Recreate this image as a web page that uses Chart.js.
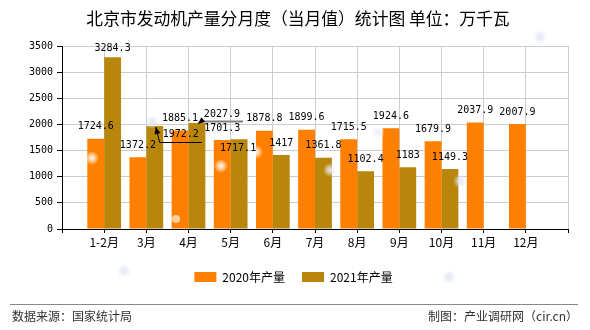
<!DOCTYPE html>
<html>
<head>
<meta charset="utf-8">
<script src="https://cdn.jsdelivr.net/npm/chart.js@4.4.1/dist/chart.umd.min.js"></script>
<style>
    html, body { margin: 0; padding: 0; background: #fff; }
    #wrap { width: 590px; height: 330px; }
</style>
</head>
<body>
<div id="wrap"><canvas id="chart" width="590" height="330"></canvas></div>
<script>
// Données (万千瓦)
const months = ["1-2月", "3月", "4月", "5月", "6月", "7月", "8月", "9月", "10月", "11月", "12月"];
const output2020 = [1724.6, 1372.2, 1885.1, 1701.3, 1878.8, 1899.6, 1715.5, 1924.6, 1679.9, 2037.9, 2007.9];
const output2021 = [3284.3, 1972.2, 2027.9, 1717.1, 1417, 1361.8, 1102.4, 1183, 1149.3, null, null];
const yTicks = [0, 500, 1000, 1500, 2000, 2500, 3000, 3500];

const titleText = "北京市发动机产量分月度（当月值）统计图 单位：万千瓦";
const sourceText = "数据来源：国家统计局";
const creditText = "制图：产业调研网（cir.cn）";

// étiquettes déplacées pour éviter les chevauchements
const labelMoves = [
    { month: "3月", ds: 1, dx: 26, dy: 9, leader: "#000", leaderWidth: 1 },
    { month: "4月", ds: 1, dx: 25, dy: -9, leader: "#808080", leaderWidth: 2 },
    { month: "5月", ds: 1, dx: -1, dy: 9 }
];

// petits reflets décoratifs du fond d'origine
const sparkles = [
    [92, 158, "255,255,255"], [221, 166, "255,255,255"], [256, 152, "255,255,255"],
    [330, 170, "235,238,250"], [378, 132, "235,238,250"], [460, 181, "225,230,248"],
    [152, 122, "225,230,248"], [540, 37, "225,230,248"], [124, 271, "225,230,248"], [449, 277, "225,230,248"]
];

const cjk = '"Noto Sans CJK SC", "Noto Sans", sans-serif';
const mono = '"DejaVu Sans Mono", "Liberation Mono", monospace';

// axe avec une case vide de chaque côté
const labels = ["", ...months, ""];
const pad = arr => [null, ...arr, null];

const decorations = {
    id: "decorations",
    afterDraw(chart) {
        const ctx = chart.ctx;
        ctx.save();
        // titre
        ctx.fillStyle = "#000";
        ctx.font = "16.8px " + cjk;
        ctx.textAlign = "center";
        ctx.textBaseline = "middle";
        ctx.fillText(titleText, 298, 19);
        // pied de page
        ctx.strokeStyle = "#888";
        ctx.lineWidth = 1;
        ctx.beginPath();
        ctx.moveTo(10, 304.5);
        ctx.lineTo(578, 304.5);
        ctx.stroke();
        ctx.fillStyle = "#333";
        ctx.font = "12px " + cjk;
        ctx.textAlign = "left";
        ctx.fillText(sourceText, 12, 316);
        ctx.textAlign = "right";
        ctx.fillText(creditText, 578, 316);
        ctx.restore();
    }
};

const valueLabels = {
    id: "valueLabels",
    afterDatasetsDraw(chart) {
        const ctx = chart.ctx;
        const areaTop = chart.chartArea.top;
        ctx.save();
        // reflets
        sparkles.forEach(([x, y, c]) => {
            const g = ctx.createRadialGradient(x, y, 0, x, y, 7);
            g.addColorStop(0, "rgba(" + c + ",0.95)");
            g.addColorStop(0.45, "rgba(" + c + ",0.6)");
            g.addColorStop(1, "rgba(" + c + ",0)");
            ctx.fillStyle = g;
            ctx.fillRect(x - 7, y - 7, 14, 14);
        });
        ctx.fillStyle = "rgba(255,214,170,0.9)";
        ctx.beginPath();
        ctx.arc(176, 219, 4, 0, Math.PI * 2);
        ctx.fill();

        ctx.font = "10px " + mono;
        ctx.textAlign = "center";
        ctx.textBaseline = "middle";
        chart.data.datasets.forEach((ds, d) => {
            chart.getDatasetMeta(d).data.forEach((bar, i) => {
                const v = ds.data[i];
                if (v === null || v === undefined) return;
                const text = String(v);
                const move = labelMoves.find(m => m.ds === d && labels.indexOf(m.month) === i) || { dx: 0, dy: -12 };
                const cx = bar.x + move.dx;
                const cy = Math.max(bar.y + move.dy, areaTop + 2.5);
                ctx.fillStyle = "#000";
                ctx.fillText(text, cx, cy);
                if (move.leader) {
                    const w = ctx.measureText(text).width;
                    const uy = Math.round(cy + 7) + 0.5;
                    const ux0 = cx - w / 2 - 3;
                    const ux1 = cx + w / 2 + 3;
                    const tx = bar.x + 1;
                    const ty = bar.y + 1;
                    ctx.strokeStyle = move.leader;
                    ctx.lineWidth = move.leaderWidth;
                    ctx.beginPath();
                    ctx.moveTo(ux1, uy);
                    ctx.lineTo(ux0, uy);
                    ctx.lineTo(tx, ty);
                    ctx.stroke();
                    const a = Math.atan2(ty - uy, tx - ux0);
                    ctx.beginPath();
                    ctx.moveTo(tx, ty);
                    ctx.lineTo(tx - 7 * Math.cos(a) + 3 * Math.sin(a), ty - 7 * Math.sin(a) - 3 * Math.cos(a));
                    ctx.lineTo(tx - 7 * Math.cos(a) - 3 * Math.sin(a), ty - 7 * Math.sin(a) + 3 * Math.cos(a));
                    ctx.closePath();
                    ctx.fillStyle = "#000";
                    ctx.fill();
                }
            });
        });
        ctx.restore();
    }
};

const ctx = document.getElementById("chart").getContext("2d");
new Chart(ctx, {
    type: "bar",
    data: {
        labels: labels,
        datasets: [
            {
                label: "2020年产量",
                data: pad(output2020),
                backgroundColor: "#FF8000",
                borderWidth: 0,
                barPercentage: 1,
                categoryPercentage: 0.8
            },
            {
                label: "2021年产量",
                data: pad(output2021),
                backgroundColor: "#B8860B",
                borderWidth: 0,
                barPercentage: 1,
                categoryPercentage: 0.8
            }
        ]
    },
    options: {
        responsive: false,
        devicePixelRatio: 1,
        animation: false,
        layout: { padding: { left: 19, right: 22, top: 46, bottom: 37 } },
        plugins: {
            title: { display: false },
            tooltip: { enabled: false },
            legend: {
                position: "bottom",
                labels: {
                    boxWidth: 22,
                    boxHeight: 10,
                    padding: 17,
                    color: "#000",
                    font: { family: cjk, size: 12 }
                }
            }
        },
        scales: {
            x: {
                offset: false,
                grid: { color: "#cccccc", tickColor: "#000", tickLength: 4, offset: false },
                border: { color: "#000" },
                ticks: {
                    autoSkip: false,
                    maxRotation: 0,
                    padding: 2,
                    color: "#000",
                    font: { family: cjk, size: 12 }
                },
                afterFit: s => { s.height = 25; }
            },
            y: {
                min: yTicks[0],
                max: yTicks[yTicks.length - 1],
                afterBuildTicks: s => { s.ticks = yTicks.map(v => ({ value: v })); },
                grid: { color: "#cccccc", tickColor: "#000", tickLength: 5 },
                border: { color: "#000" },
                ticks: {
                    padding: 4,
                    color: "#000",
                    font: { family: mono, size: 10 },
                    callback: v => String(v)
                },
                afterFit: s => { s.width = 43; }
            }
        }
    },
    plugins: [valueLabels, decorations]
});
</script>
</body>
</html>
